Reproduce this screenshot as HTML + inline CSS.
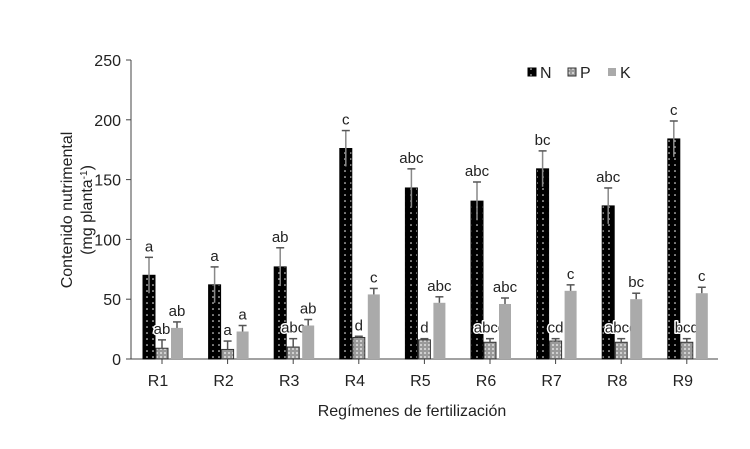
<!DOCTYPE html>
<html><head><meta charset="utf-8"><style>
body{margin:0;background:#fff}
svg text{font-family:"Liberation Sans",sans-serif;fill:#222}
.halo{paint-order:stroke;stroke:#fff;stroke-width:3px;stroke-linejoin:round}
</style></head><body>
<svg id="c" width="750" height="444">
<defs>
<pattern id="pN" width="6" height="6" patternUnits="userSpaceOnUse"><rect width="6" height="6" fill="#000"/><circle cx="3" cy="3" r="0.8" fill="#fff"/></pattern>
<pattern id="pP" width="4" height="4" patternUnits="userSpaceOnUse"><rect width="4" height="4" fill="#9a9a9a"/><rect width="2" height="2" fill="#d0d0d0"/></pattern>
</defs>
</svg>
<script>
const categories=["R1","R2","R3","R4","R5","R6","R7","R8","R9"];
const nValues=[70,62,77,176,143,132,159,128,184];
const nErrors=[15,15,16,15,16,16,15,15,15];
const pValues=[9,8,10,18,16,14,15,14,14];
const pErrors=[7,7,7,1,1,3,2,3,3];
const kValues=[26,23,28,54,47,46,57,50,55];
const kErrors=[5,5,5,5,5,5,5,5,5];
const nLabels=["a","a","ab","c","abc","abc","bc","abc","c"];
const pLabels=["ab","a","abc","d","d","abcd","cd","abcd","bcd"];
const kLabels=["ab","a","ab","c","abc","abc","c","bc","c"];
const yTicks=[0,50,100,150,200,250];
const svg=document.getElementById('c');const NS="http://www.w3.org/2000/svg";
function y(v){return 359-v*299/250;}
function x(i){return 162+i*65.6;}
function mk(t,a,p,name){const e=document.createElementNS(NS,t);for(const k in a)e.setAttribute(k,a[k]);(p||svg).appendChild(e);return e;}
function txt(s,a,name){const e=mk('text',a,svg,name);e.textContent=s;return e;}
mk('line',{x1:131,y1:60,x2:131,y2:359,stroke:'#444','stroke-width':1},svg,'y-axis');
mk('line',{x1:131,y1:359,x2:718,y2:359,stroke:'#444','stroke-width':1},svg,'x-axis');
yTicks.forEach(v=>{mk('line',{x1:126,y1:y(v),x2:131,y2:y(v),stroke:'#444'},svg,'y-tick');
txt(v,{x:121,y:y(v)+6,'text-anchor':'end','font-size':16},'y-tick-label');});
const series=[[nValues,nErrors,nLabels,'url(#pN)',-13,'#000'],[pValues,pErrors,pLabels,'url(#pP)',0,'#333'],[kValues,kErrors,kLabels,'#aaa',15,'none']];
categories.forEach((c,i)=>{
 mk('line',{x1:x(i),y1:359,x2:x(i),y2:364,stroke:'#444'},svg,'x-tick');
 txt(c,{x:x(i)-4,y:386,'text-anchor':'middle','font-size':16},'x-tick-label');
 series.forEach((s,j)=>{const cx=x(i)+s[4];const v=s[0][i],e=s[1][i];
  mk('rect',{x:cx-6,y:y(v),width:12,height:359-y(v),fill:s[3],stroke:s[5],'stroke-width':1},svg,'bar-'+['n','p','k'][j]+'-'+c);
  const g='#555';
  mk('line',{x1:cx,y1:y(v-(j==0?e:0)),x2:cx,y2:y(v+e),stroke:j==0?'#888':g,'stroke-width':1.5},svg,'error-bar');
  mk('line',{x1:cx-4,y1:y(v+e),x2:cx+4,y2:y(v+e),stroke:g,'stroke-width':1.5},svg,'error-cap');
  txt(s[2][i],{x:cx,y:y(v+e)-6,'text-anchor':'middle','font-size':15,'class':j==1?'halo':''},'significance-label');
 });
});
txt('Regímenes de fertilización',{x:412,y:416,'text-anchor':'middle','font-size':16},'x-axis-title');
const yt=txt('',{transform:'translate(72,210) rotate(-90)','text-anchor':'middle','font-size':16},'y-axis-title');
yt.innerHTML='<tspan x="0" y="0">Contenido nutrimental</tspan><tspan x="0" y="20">(mg planta<tspan baseline-shift="super" font-size="10">-1</tspan>)</tspan>';
const leg=[['N','url(#pN)','#000'],['P','url(#pP)','#333'],['K','#aaa','none']];
leg.forEach((l,i)=>{const lx=528+i*40;
 mk('rect',{x:lx,y:68,width:8,height:8,fill:l[1],stroke:l[2]},svg,'legend-swatch-'+l[0]);
 txt(l[0],{x:lx+12,y:78,'font-size':16,fill:'#444'},'legend-label-'+l[0]);});
</script>
</body></html>
